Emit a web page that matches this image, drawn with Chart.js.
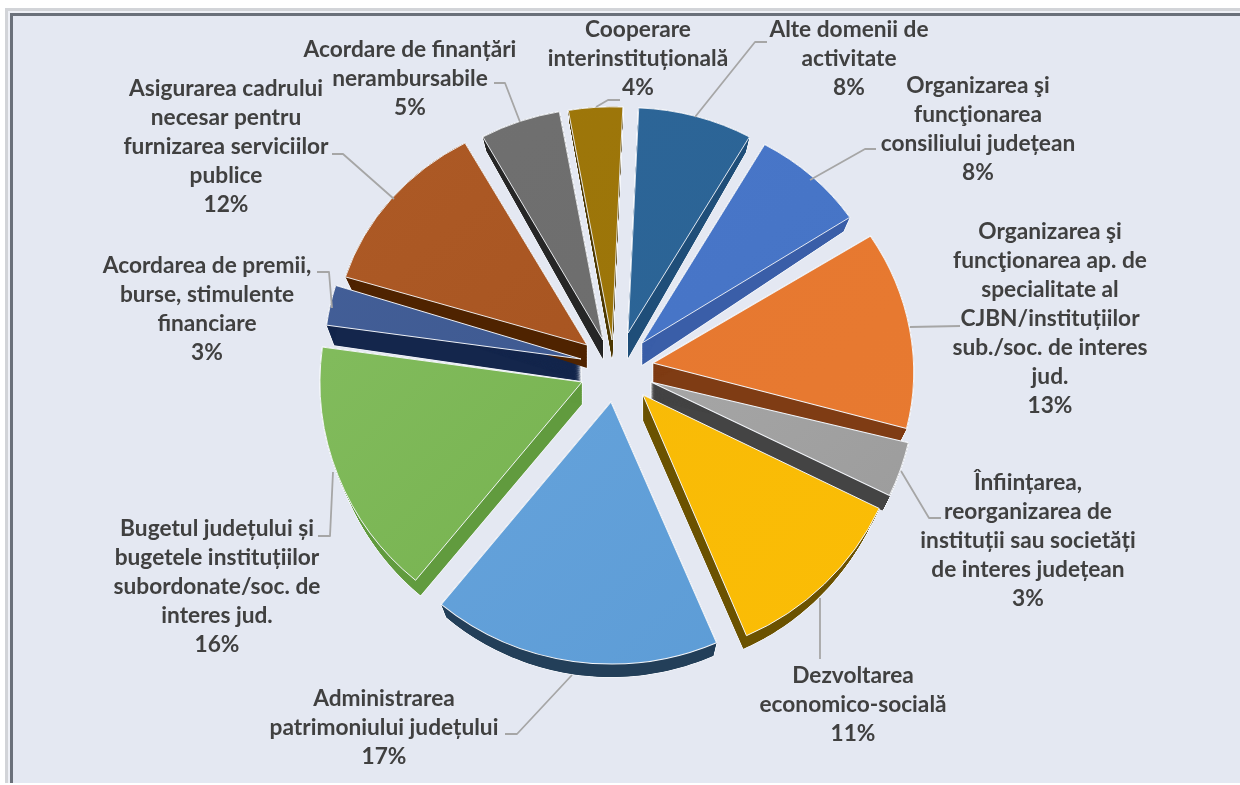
<!DOCTYPE html>
<html><head><meta charset="utf-8">
<style>
html,body{margin:0;padding:0;background:#fff;overflow:hidden}
#f1{position:absolute;left:5px;top:8px;width:1235px;height:775px;background:#d2d4d8}
#f2{position:absolute;left:8px;top:11px;right:0;bottom:2px;background:#eef0f6}
#f3{position:absolute;left:10px;top:13px;right:0;bottom:2px;background:#6a707a}
#f4{position:absolute;left:13px;top:16px;right:0;bottom:2px;background:#e4e8f2}
#c{position:absolute;left:0;top:0}
</style></head><body>
<div id="f1"></div><div id="f2"></div><div id="f3"></div><div id="f4"></div>
<canvas id="c" width="1240" height="785"></canvas>
<script src="https://cdn.jsdelivr.net/npm/chart.js@4"></script>
<script>
const categories = [
 "Alte domenii de activitate",
 "Organizarea şi funcţionarea consiliului județean",
 "Organizarea şi funcţionarea ap. de specialitate al CJBN/instituțiilor sub./soc. de interes jud.",
 "Înființarea, reorganizarea de instituții sau societăți de interes județean",
 "Dezvoltarea economico-socială",
 "Administrarea patrimoniului județului",
 "Bugetul județului și bugetele instituțiilor subordonate/soc. de interes jud.",
 "Acordarea de premii, burse, stimulente financiare",
 "Asigurarea cadrului necesar pentru furnizarea serviciilor publice",
 "Acordare de finanțări nerambursabile",
 "Cooperare interinstituțională"];
const values = [7.5,7.5,13.0,3.4,11.4,17.4,16.2,2.6,12.2,5.2,3.5];
const percentLabels = ["8%","8%","13%","3%","11%","17%","16%","3%","12%","5%","4%"];
const labelLines = [
 ["Alte domenii de","activitate"],
 ["Organizarea şi","funcţionarea","consiliului județean"],
 ["Organizarea şi","funcţionarea ap. de","specialitate al","CJBN/instituțiilor","sub./soc. de interes","jud."],
 ["Înființarea,","reorganizarea de","instituții sau societăți","de interes județean"],
 ["Dezvoltarea","economico-socială"],
 ["Administrarea","patrimoniului județului"],
 ["Bugetul județului și","bugetele instituțiilor","subordonate/soc. de","interes jud."],
 ["Acordarea de premii,","burse, stimulente","financiare"],
 ["Asigurarea cadrului","necesar pentru","furnizarea serviciilor","publice"],
 ["Acordare de finanțări","nerambursabile"],
 ["Cooperare","interinstituțională"]];
const topColors  = ["#2a6294","#4472c4","#e87a30","#999999","#fbbd05","#5b9bd5","#70ad47","#3a5488","#a4511d","#6b6b6b","#9a7308"];
const lightColors= ["#2d6698","#4a78ca","#e57730","#b2b2b2","#f6b908","#6aa6de","#86bf62","#44609a","#ad5a26","#707070","#9e770a"];
const wallColors = ["#1f4e79","#3a5ea8","#7f3c14","#444444","#6b5200","#233f59","#619b3e","#14264c","#4f2300","#262626","#4d3800"];
// top-face placement of each exploded slice: tip position, then x scale, shear, y scale
const sliceTips = [[628,333],[642,343],[653,363],[651,382],[643,395],[611,402],[582,382],[581,359],[587,345],[603,340],[612,340]];
const sliceWarp = [[.94,0,.86],[.95,0,.87],[.995,.035,.931],[1.01,0,1],[1,0,1],[1.02,0,1],[1,0,.98],[.98,0,.95],[.965,0,.88],[.95,0,.885],[.95,0,.89]];
const wallDepth = [[25,15],[22,14],[20,15],[18,15],[25,13],[13,13],[22,15],[22,20],[23,15],[19,14],[18,12]];
const WALL_SHRINK = 0.03;
const labelAnchors = [[849,30],[978,86],[1050,232],[1028,483],[853,676],[384,699],[217,529],[207,266],[226,89],[410,50],[638,30]];
const leaderPaths = [
 [[767,42],[755,42],[695,117]],
 [[876,149],[865,149],[810,180]],
 [[960,326],[910,327]],
 [[941,518],[929,518],[901,471]],
 [[820,659],[820,598]],
 [[505,734],[517,734],[572,675]],
 [[318,536],[330,536],[333,472]],
 [[317,272],[329,272],[332,308]],
 [[332,154],[343,154],[394,199]],
 [[494,83],[505,83],[520,122]],
 [[620,100],[608,100],[596,107]]];

const tilt3d={id:'tilt3d',
 beforeDatasetsDraw(chart){
  const c=chart.ctx, arcs=chart.getDatasetMeta(0).data;
  const point=(a,i,ang,r,t)=>{
    const [tx,ty]=sliceTips[i],[sx,sh,sy]=sliceWarp[i],[dt,dr]=wallDepth[i];
    const u=Math.cos(ang)*r, v=Math.sin(ang)*r;
    return [tx+sx*u*(1-WALL_SHRINK*t), ty+sh*u+sy*v+t*(dt+(dr-dt)*r/a.outerRadius)];
  };
  const path=(a,i,t)=>{
    c.beginPath();
    let q=point(a,i,a.startAngle,0,t); c.moveTo(q[0],q[1]);
    const n=48;
    for(let k=0;k<=n;k++){
      q=point(a,i,a.startAngle+(a.endAngle-a.startAngle)*k/n,a.outerRadius,t); c.lineTo(q[0],q[1]);
    }
    c.closePath();
  };
  c.save();
  c.lineJoin='round';
  arcs.forEach((a,i)=>{
    c.strokeStyle='#f4f6fa'; c.lineWidth=1.5;
    for(let t=0;t<=1.001;t+=0.04){path(a,i,t);c.stroke();}
  });
  arcs.forEach((a,i)=>{
    c.fillStyle=wallColors[i];
    for(let t=0;t<=1.001;t+=0.02){path(a,i,t);c.fill();}
    if(!a._wrapped){
      a._wrapped=true;
      const base=a.draw;
      a.draw=function(ctx,area){
        const [tx,ty]=sliceTips[i],[sx,sh,sy]=sliceWarp[i];
        ctx.save();ctx.translate(tx,ty);ctx.transform(sx,sh,0,sy,0,0);ctx.translate(-a.x,-a.y);
        base.call(a,ctx,area);ctx.restore();
      };
    }
  });
  c.restore();
 },
 afterDatasetsDraw(chart){
  const c=chart.ctx;
  c.strokeStyle='#a6a6a6'; c.lineWidth=1.8; c.lineJoin='round';
  leaderPaths.forEach(p=>{c.beginPath();p.forEach((q,k)=>k?c.lineTo(q[0],q[1]):c.moveTo(q[0],q[1]));c.stroke();});
  c.fillStyle='#404040'; c.font='bold 22.7px Lato'; c.textAlign='center'; c.textBaseline='middle';
  labelLines.forEach((ls,i)=>{
    const [x,y]=labelAnchors[i];
    ls.concat(percentLabels[i]).forEach((t,k)=>c.fillText(t,x,y+k*29));
  });
 }};

function sliceGradient(ctx){
  const i=ctx.dataIndex, g=ctx.chart.ctx.createLinearGradient(360,120,880,640);
  g.addColorStop(0,lightColors[i]); g.addColorStop(1,topColors[i]);
  return g;
}
new Chart(document.getElementById('c'),{
 type:'pie',
 data:{labels:categories,datasets:[{data:values,backgroundColor:sliceGradient,borderColor:'#f4f6fa',borderWidth:1,radius:262,clip:false}]},
 options:{responsive:false,animation:false,rotation:2.5,
  layout:{padding:{right:10,bottom:29}},
  plugins:{legend:{display:false},tooltip:{enabled:false},title:{display:false}}},
 plugins:[tilt3d]});
</script></body></html>
